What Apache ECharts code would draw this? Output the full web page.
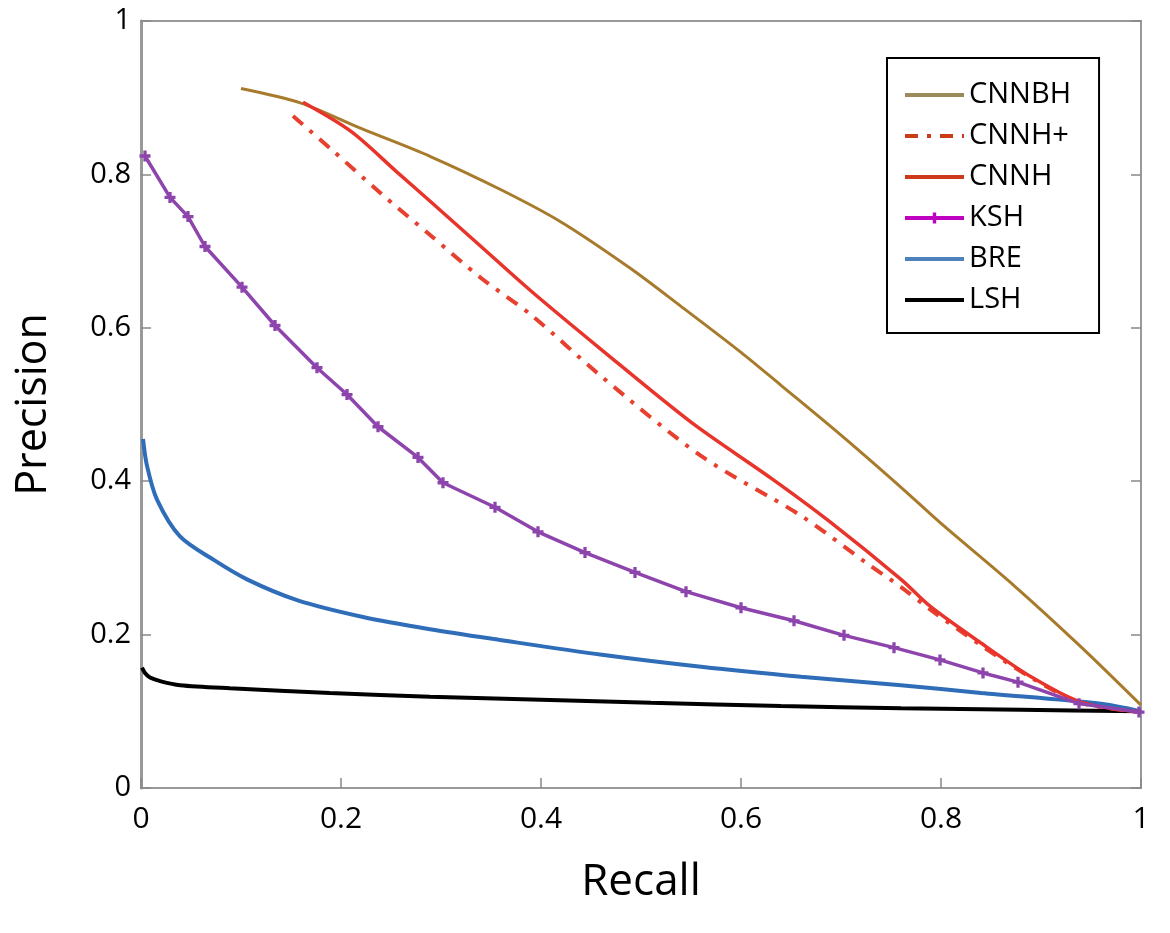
<!DOCTYPE html>
<html>
<head>
<meta charset="utf-8">
<title>Precision / Recall</title>
<script src="https://cdn.jsdelivr.net/npm/echarts@6/dist/echarts.min.js"></script>
<style>
  html, body { margin: 0; padding: 0; background: #fff; }
  #chart { width: 1170px; height: 933px; }
</style>
</head>
<body>
<div id="chart"></div>
<script>
// curves, [recall, precision]
const cnnbh = [[0.1, 0.912], [0.16, 0.893], [0.22, 0.86], [0.29, 0.823], [0.36, 0.78], [0.42, 0.738], [0.49, 0.677], [0.54, 0.628], [0.6, 0.568], [0.64, 0.525], [0.7, 0.46], [0.76, 0.392], [0.8, 0.345], [0.873, 0.264], [0.94, 0.184], [1.0, 0.108]];
const cnnhPlus = [[0.152, 0.876], [0.19, 0.833], [0.24, 0.775], [0.29, 0.72], [0.34, 0.665], [0.39, 0.617], [0.46, 0.537], [0.56, 0.433], [0.66, 0.355], [0.727, 0.292], [0.76, 0.262], [0.79, 0.232], [0.84, 0.186], [0.89, 0.144], [0.94, 0.111], [1.0, 0.099]];
const cnnh = [[0.162, 0.894], [0.21, 0.856], [0.256, 0.803], [0.29, 0.764], [0.34, 0.706], [0.39, 0.648], [0.46, 0.572], [0.55, 0.477], [0.63, 0.404], [0.69, 0.346], [0.76, 0.272], [0.79, 0.236], [0.84, 0.189], [0.89, 0.145], [0.94, 0.112], [1.0, 0.099]];
const ksh = [[0.004, 0.824], [0.029, 0.77], [0.047, 0.745], [0.064, 0.706], [0.101, 0.653], [0.134, 0.603], [0.176, 0.548], [0.206, 0.513], [0.237, 0.471], [0.277, 0.431], [0.302, 0.398], [0.354, 0.366], [0.397, 0.334], [0.444, 0.307], [0.494, 0.281], [0.545, 0.256], [0.6, 0.235], [0.653, 0.218], [0.703, 0.199], [0.753, 0.183], [0.799, 0.167], [0.842, 0.15], [0.877, 0.138], [0.938, 0.11], [0.998, 0.099]];
const bre = [[0.002, 0.455], [0.006, 0.42], [0.016, 0.376], [0.039, 0.328], [0.072, 0.298], [0.106, 0.272], [0.156, 0.245], [0.222, 0.223], [0.289, 0.207], [0.359, 0.193], [0.459, 0.174], [0.56, 0.158], [0.66, 0.145], [0.76, 0.134], [0.84, 0.124], [0.96, 0.11], [1.0, 0.1]];
const lsh = [[0.001, 0.157], [0.004, 0.15], [0.009, 0.144], [0.02, 0.139], [0.039, 0.134], [0.089, 0.13], [0.189, 0.124], [0.289, 0.119], [0.4, 0.115], [0.51, 0.111], [0.64, 0.107], [0.76, 0.104], [0.88, 0.102], [1.0, 0.1]];

const seriesNames = ["CNNBH", "CNNH+", "CNNH", "KSH", "BRE", "LSH"];

const FONT = "'Open Sans', 'Noto Sans', sans-serif";
const plus = "path://M3.5,0h3v3.5h3.5v3h-3.5v3.5h-3v-3.5h-3.5v-3h3.5z";

const chart = echarts.init(document.getElementById("chart"));

const option = {
  animation: false,
  backgroundColor: "#fff",
  grid: {
    left: 141,
    right: 29,
    top: 21,
    bottom: 145,
    show: true,
    borderColor: "#999",
    borderWidth: 2,
  },
  legend: {
    orient: "vertical",
    left: 887,
    top: 58,
    padding: [22, 28, 18, 16],
    itemWidth: 59,
    itemHeight: 14,
    itemGap: 11,
    borderColor: "#000",
    borderWidth: 2,
    itemStyle: { opacity: 0 },
    textStyle: { fontFamily: FONT, fontSize: 29, color: "#000", lineHeight: 30 },
    data: [
      { name: "CNNBH", lineStyle: { color: "#9a8a5c", width: 4 } },
      { name: "CNNH+", lineStyle: { color: "#cc3a1a", width: 4 } },
      { name: "CNNH", lineStyle: { color: "#cc3a1a", width: 4 } },
      { name: "KSH", lineStyle: { color: "#c000c0", width: 4 }, itemStyle: { color: "#c000c0", opacity: 1 } },
      { name: "BRE", lineStyle: { color: "#4f81bd", width: 4 } },
      { name: "LSH", lineStyle: { color: "#000", width: 4 } },
    ],
  },
  xAxis: [
    {
      type: "value",
      min: 0,
      max: 1,
      interval: 0.2,
      name: "Recall",
      nameLocation: "middle",
      nameGap: 72,
      nameTextStyle: { fontFamily: FONT, fontSize: 44, color: "#000" },
      axisLine: { show: true, lineStyle: { color: "#999", width: 2 } },
      axisTick: { show: true, inside: true, length: 10, lineStyle: { color: "#888", width: 1.5 } },
      axisLabel: { fontFamily: FONT, fontSize: 30, color: "#000", margin: 16 },
      splitLine: { show: false },
    },
  ],
  yAxis: [
    {
      type: "value",
      min: 0,
      max: 1,
      interval: 0.2,
      name: "Precision",
      nameLocation: "middle",
      nameGap: 86,
      nameTextStyle: { fontFamily: FONT, fontSize: 43, color: "#000" },
      axisLine: { show: true, lineStyle: { color: "#999", width: 3 } },
      axisTick: { show: true, inside: true, length: 10, lineStyle: { color: "#888", width: 1.5 } },
      axisLabel: { fontFamily: FONT, fontSize: 29, color: "#000", margin: 10 },
      splitLine: { show: false },
    },
    {
      type: "value",
      position: "right",
      min: 0,
      max: 1,
      interval: 0.2,
      axisLine: { show: true, lineStyle: { color: "#999", width: 2 } },
      axisTick: { show: true, inside: true, length: 10, lineStyle: { color: "#888", width: 1.5 } },
      axisLabel: { show: false },
      splitLine: { show: false },
    },
  ],
  series: [
    {
      name: seriesNames[0],
      type: "line",
      data: cnnbh,
      symbol: "none",
      smooth: 0.3,
      color: "#a87b2c",
      lineStyle: { width: 3 },
      z: 3,
    },
    {
      name: seriesNames[1],
      type: "line",
      data: cnnhPlus,
      symbol: "none",
      smooth: 0.3,
      color: "#e8402e",
      lineStyle: { width: 4, type: [13, 9, 4, 9] },
      z: 3,
    },
    {
      name: seriesNames[2],
      type: "line",
      data: cnnh,
      symbol: "none",
      smooth: 0.3,
      color: "#e8342a",
      lineStyle: { width: 3.5 },
      z: 4,
    },
    {
      name: seriesNames[3],
      type: "line",
      data: ksh,
      symbol: plus,
      symbolSize: 11,
      showSymbol: true,
      color: "#8e44ad",
      lineStyle: { width: 3.5 },
      z: 5,
    },
    {
      name: seriesNames[4],
      type: "line",
      data: bre,
      symbol: "none",
      smooth: 0.3,
      color: "#2f6db8",
      lineStyle: { width: 4 },
      z: 3,
    },
    {
      name: seriesNames[5],
      type: "line",
      data: lsh,
      symbol: "none",
      smooth: 0.3,
      color: "#000",
      lineStyle: { width: 4 },
      z: 2,
    },
  ],
};

chart.setOption(option);
</script>
</body>
</html>
